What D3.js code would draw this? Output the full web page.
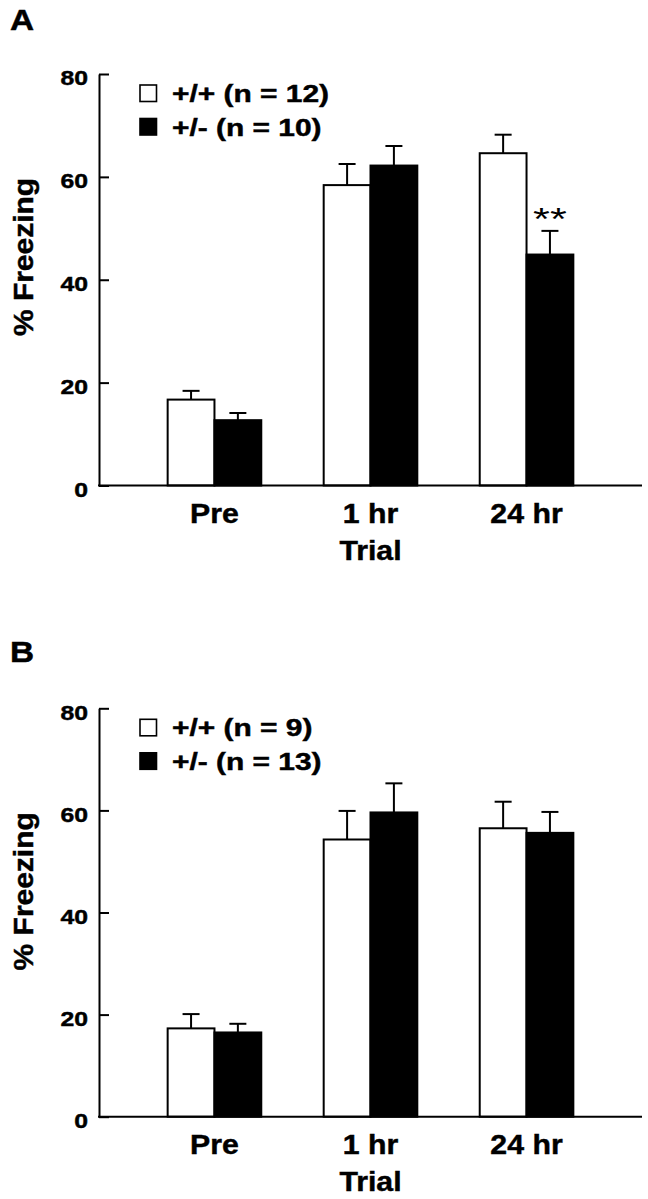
<!DOCTYPE html>
<html>
<head>
<meta charset="utf-8">
<script src="https://cdn.jsdelivr.net/npm/d3@7"></script>
<style>
  html, body { margin: 0; padding: 0; background: #fff; }
  svg { display: block; }
  text { font-family: "Liberation Sans", Arial, Helvetica, sans-serif; fill: #000; }
  .heavy { stroke: #000; stroke-width: 0.45px; }
</style>
</head>
<body>
<script>
// ---------- data ----------
const categories = ["Pre", "1 hr", "24 hr"];
const yTicks = [0, 20, 40, 60, 80];
const xAxisTitle = "Trial";
const yAxisTitle = "% Freezing";

// Panel A
const panelALetter = "A";
const seriesNamesA = ["+/+ (n = 12)", "+/- (n = 10)"];
const wtMeanA = [16.7, 58.4, 64.6];
const wtSemA = [1.7, 4.1, 3.6];
const hetMeanA = [12.7, 62.2, 44.9];
const hetSemA = [1.4, 3.8, 4.6];
const sigA = [{ category: "24 hr", series: 1, label: "**" }];

// Panel B
const panelBLetter = "B";
const seriesNamesB = ["+/+ (n = 9)", "+/- (n = 13)"];
const wtMeanB = [17.3, 54.3, 56.5];
const wtSemB = [2.8, 5.6, 5.2];
const hetMeanB = [16.5, 59.6, 55.6];
const hetSemB = [1.7, 5.7, 4.1];
const sigB = [];

// ---------- layout ----------
const W = 648, H = 1199;
const seriesFill = ["#fff", "#000"];
const panels = [
  { letter: panelALetter, names: seriesNamesA, means: [wtMeanA, hetMeanA], sems: [wtSemA, hetSemA], sig: sigA,
    top: 74, bottom: 485.5, letterY: 30 },
  { letter: panelBLetter, names: seriesNamesB, means: [wtMeanB, hetMeanB], sems: [wtSemB, hetSemB], sig: sigB,
    top: 708.3, bottom: 1116.7, letterY: 662 }
];
const xLeft = 99, xRight = 642;

const svg = d3.select("body").append("svg").attr("width", W).attr("height", H);
svg.append("rect").attr("width", W).attr("height", H).attr("fill", "#fff");

function stretch(sel, k) {
  sel.each(function () {
    const w = this.getComputedTextLength();
    this.setAttribute("textLength", w * k);
    this.setAttribute("lengthAdjust", "spacingAndGlyphs");
  });
}

panels.forEach(p => {
  const g = svg.append("g");
  const y = d3.scaleLinear().domain([0, 80]).range([p.bottom, p.top]);
  const x0 = d3.scaleBand().domain(categories).range([xLeft, xRight])
    .paddingInner(0.4).paddingOuter(0.44);
  const x1 = d3.scaleBand().domain([0, 1]).range([0, x0.bandwidth()]).padding(0);

  // panel letter
  const L = g.append("text").attr("class", "heavy").attr("x", 10).attr("y", p.letterY)
    .attr("font-size", 29).attr("font-weight", "bold").text(p.letter);
  stretch(L, 1.15);

  // bars
  categories.forEach((c, ci) => {
    [0, 1].forEach(si => {
      const v = p.means[si][ci], e = p.sems[si][ci];
      const bx = x0(c) + x1(si);
      const cx = bx + x1.bandwidth() / 2;
      // error bar (upper only)
      g.append("line").attr("x1", cx).attr("x2", cx)
        .attr("y1", y(v)).attr("y2", y(v + e))
        .attr("stroke", "#000").attr("stroke-width", 2);
      g.append("line").attr("x1", cx - 8.5).attr("x2", cx + 8.5)
        .attr("y1", y(v + e)).attr("y2", y(v + e))
        .attr("stroke", "#000").attr("stroke-width", 2);
      g.append("rect").attr("x", bx).attr("y", y(v))
        .attr("width", x1.bandwidth()).attr("height", y(0) - y(v))
        .attr("fill", seriesFill[si]).attr("stroke", "#000").attr("stroke-width", 2);
    });
  });

  // significance markers
  p.sig.forEach(s => {
    const ci = categories.indexOf(s.category);
    const cx = x0(s.category) + x1(s.series) + x1.bandwidth() / 2;
    const top = p.means[s.series][ci] + p.sems[s.series][ci];
    const t = g.append("text").attr("x", cx).attr("y", y(top) - 1)
      .attr("text-anchor", "middle").attr("font-size", 32)
      .attr("font-family", "'DejaVu Sans', sans-serif")
      .text(s.label);
    stretch(t, 1.35);
  });

  // y axis
  const ya = g.append("g").attr("transform", `translate(${xLeft},0)`)
    .call(d3.axisLeft(y).tickValues(yTicks).tickSizeInner(-10).tickSizeOuter(0).tickPadding(11));
  ya.select(".domain").attr("stroke-width", 2);
  ya.selectAll(".tick line").attr("stroke-width", 2);
  ya.selectAll(".tick text").attr("class", "heavy").attr("font-size", 21).attr("font-weight", "bold")
    .attr("font-family", "'Liberation Sans', Arial, sans-serif").attr("dy", "0.52em");
  stretch(ya.selectAll(".tick text"), 1.18);

  // x axis line
  g.append("line").attr("x1", xLeft - 1).attr("x2", xRight)
    .attr("y1", y(0)).attr("y2", y(0)).attr("stroke", "#000").attr("stroke-width", 2);

  // category labels
  const cl = g.selectAll(".cat").data(categories).join("text").attr("class", "heavy")
    .attr("x", d => x0(d) + x0.bandwidth() / 2).attr("y", y(0) + 37)
    .attr("text-anchor", "middle").attr("font-size", 28).attr("font-weight", "bold")
    .text(d => d);
  stretch(cl, 1.08);
  const xt = g.append("text").attr("class", "heavy").attr("x", x0(categories[1]) + x0.bandwidth() / 2).attr("y", y(0) + 74)
    .attr("text-anchor", "middle").attr("font-size", 28).attr("font-weight", "bold").text(xAxisTitle);
  stretch(xt, 1.08);

  // y title
  const yt = g.append("text").attr("class", "heavy")
    .attr("transform", `translate(33,${p.top + 183}) rotate(-90)`)
    .attr("text-anchor", "middle").attr("font-size", 28).attr("font-weight", "bold").text(yAxisTitle);
  stretch(yt, 1.07);

  // legend
  p.names.forEach((n, i) => {
    const rowBase = p.top + 27.5 + i * 33.5;
    g.append("rect").attr("x", 140).attr("y", rowBase - 16.5).attr("width", 16.5).attr("height", 16.5)
      .attr("fill", seriesFill[i]).attr("stroke", "#000").attr("stroke-width", 1.6);
    const t = g.append("text").attr("class", "heavy").attr("x", 172).attr("y", rowBase + 0.5)
      .attr("font-size", 23).attr("font-weight", "bold").text(n);
    stretch(t, 1.3);
  });
});
</script>
</body>
</html>
